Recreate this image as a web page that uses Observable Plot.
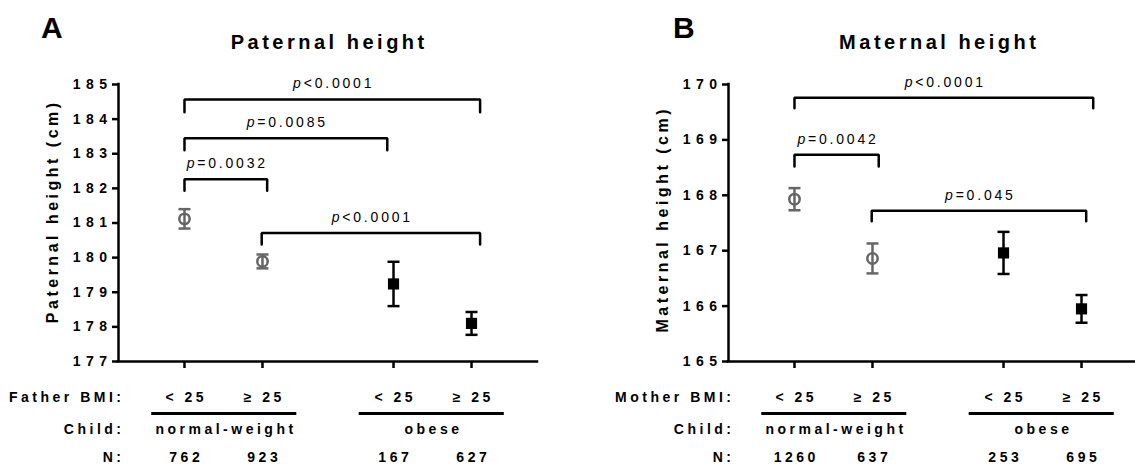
<!DOCTYPE html>
<html>
<head>
<meta charset="utf-8">
<script src="https://cdn.jsdelivr.net/npm/d3@7"></script>
<script src="https://cdn.jsdelivr.net/npm/@observablehq/plot@0.6"></script>
<style>
html, body { margin: 0; padding: 0; background: #fff; overflow: hidden; }
#fig { position: relative; width: 1135px; height: 465px; overflow: hidden; font-family: "Liberation Sans", Arial, sans-serif; color: #000; }
.panel { position: absolute; top: 0; width: 567px; height: 465px; }
.letter { position: absolute; top: 13px; font-size: 30px; font-weight: bold; line-height: 1; }
.title { position: absolute; top: 32px; left: 118px; width: 419px; padding-left: 3.5px; box-sizing: border-box; text-align: center; font-size: 20px; font-weight: bold; letter-spacing: 3.5px; line-height: 1; white-space: nowrap; }
.ylabel { position: absolute; left: 53px; font-size: 16px; font-weight: bold; letter-spacing: 3.5px; padding-left: 3.5px; line-height: 1; white-space: nowrap; transform: translate(-50%, -50%) rotate(-90deg); }
.panel svg { position: absolute; left: 0; overflow: visible; }
.panel svg text { font-weight: bold; letter-spacing: 3.5px; }
.panel svg .ytick text { letter-spacing: 5.5px; }
.panel svg .pval text { font-weight: normal; letter-spacing: 2.8px; }
</style>
</head>
<body>
<div id="fig"></div>
<script>
// ---------- data ----------
const colPos = [1, 2, 3.68, 4.68];
const bmiLabels = ["< 25", "\u2265 25", "< 25", "\u2265 25"];
const groupLabels = ["normal-weight", "obese"];
const groupFrom = [0.58, 3.24];
const groupTo = [2.44, 5.10];

const paternalTicks = [177, 178, 179, 180, 181, 182, 183, 184, 185];
const paternalMean = [181.12, 179.89, 179.24, 178.10];
const paternalErr = [0.28, 0.20, 0.64, 0.33];
const paternalN = [762, 923, 167, 627];
const paternalBrLabel = ["p<0.0001", "p=0.0085", "p=0.0032", "p<0.0001"];
const paternalBrFrom = [1, 1, 1, 1.99];
const paternalBrTo = [4.79, 3.60, 2.06, 4.79];
const paternalBrY = [184.57, 183.45, 182.26, 180.71];
const paternalBrEnd = [184.20, 183.10, 181.93, 180.38];

const maternalTicks = [165, 166, 167, 168, 169, 170];
const maternalMean = [167.93, 166.86, 166.96, 165.95];
const maternalErr = [0.20, 0.27, 0.38, 0.25];
const maternalN = [1260, 637, 253, 695];
const maternalBrLabel = ["p<0.0001", "p=0.0042", "p=0.045"];
const maternalBrFrom = [1, 1, 1.99];
const maternalBrTo = [4.83, 2.08, 4.74];
const maternalBrY = [169.76, 168.73, 167.72];
const maternalBrEnd = [169.57, 168.52, 167.53];

// ---------- layout ----------
const xDomain = [0.154, 5.526];
const rowIndex = {bmi: 0, line: 1, child: 2, n: 3.75};
const gray = "#666666";
const SW = 2.5;
const capSymbol = {
  draw(ctx, size) {
    const w = Math.sqrt(size / Math.PI);
    ctx.moveTo(-w, 0);
    ctx.lineTo(w, 0);
  }
};
const baseStyle = {fontFamily: "'Liberation Sans', Arial, sans-serif", fontSize: "14px", color: "#000", background: "transparent", overflow: "visible"};

function italicP(svg) {
  const ns = "http://www.w3.org/2000/svg";
  svg.querySelectorAll(".pval text").forEach(t => {
    const s = t.textContent;
    t.textContent = "";
    const a = document.createElementNS(ns, "tspan");
    a.setAttribute("font-style", "italic");
    a.textContent = s[0];
    t.appendChild(a);
    t.appendChild(document.createTextNode(s.slice(1)));
  });
}

function makePanel(cfg) {
  const panel = document.createElement("div");
  panel.className = "panel";
  panel.style.left = cfg.left + "px";
  document.getElementById("fig").appendChild(panel);

  const letter = document.createElement("div");
  letter.className = "letter";
  letter.style.left = cfg.letterLeft + "px";
  letter.textContent = cfg.letter;
  panel.appendChild(letter);

  const title = document.createElement("div");
  title.className = "title";
  title.textContent = cfg.title;
  panel.appendChild(title);

  const pts = colPos.map((x, i) => ({x, mean: cfg.mean[i], err: cfg.err[i], obese: i >= 2}));
  const normal = pts.filter(d => !d.obese);
  const obese = pts.filter(d => d.obese);
  const brIdx = cfg.brLabel.map((_, i) => i);
  const brPts = brIdx.flatMap(i => [
    {x: cfg.brFrom[i], y: cfg.brEnd[i], k: i},
    {x: cfg.brFrom[i], y: cfg.brY[i], k: i},
    {x: cfg.brTo[i], y: cfg.brY[i], k: i},
    {x: cfg.brTo[i], y: cfg.brEnd[i], k: i}
  ]);
  const ticks = cfg.ticks;

  function errMarks(data, color) {
    return [
      Plot.ruleX(data, {x: "x", y1: d => d.mean - d.err, y2: d => d.mean + d.err, stroke: color, strokeWidth: SW}),
      Plot.dot(data, {x: "x", y: d => d.mean - d.err, symbol: capSymbol, r: 6, fill: "none", stroke: color, strokeWidth: SW}),
      Plot.dot(data, {x: "x", y: d => d.mean + d.err, symbol: capSymbol, r: 6, fill: "none", stroke: color, strokeWidth: SW})
    ];
  }

  const chart = Plot.plot({
    width: 567, height: 371,
    marginLeft: 118, marginRight: 30, marginTop: 84, marginBottom: 10,
    style: baseStyle,
    x: {domain: xDomain},
    y: {domain: [ticks[0], ticks[ticks.length - 1]]},
    marks: [
      Plot.axisY({ticks, tickSize: 6, tickPadding: 0, strokeWidth: SW, tickFormat: d => String(d), label: null, className: "ytick"}),
      Plot.axisX({ticks: colPos, tickSize: 7, strokeWidth: SW, tickFormat: () => "", label: null}),
      Plot.ruleX([xDomain[0]], {strokeWidth: SW, strokeLinecap: "square"}),
      Plot.ruleY([ticks[0]], {strokeWidth: SW, strokeLinecap: "square"}),
      ...errMarks(normal, gray),
      ...errMarks(obese, "black"),
      Plot.dot(normal, {x: "x", y: "mean", symbol: "circle", r: 5.2, fill: "none", stroke: gray, strokeWidth: SW}),
      Plot.dot(obese, {x: "x", y: "mean", symbol: "square", r: 6.3, fill: "black"}),
      Plot.line(brPts, {x: "x", y: "y", z: "k", stroke: "black", strokeWidth: SW, strokeLinejoin: "miter"}),
      Plot.text(brIdx, {x: i => (cfg.brFrom[i] + cfg.brTo[i]) / 2, y: i => cfg.brY[i], text: i => cfg.brLabel[i], lineAnchor: "bottom", dy: -11, dx: 1.4, fontSize: 14, className: "pval"})
    ]
  });
  chart.style.top = "0px";
  italicP(chart);
  panel.appendChild(chart);

  const ylab = document.createElement("div");
  ylab.className = "ylabel";
  ylab.style.top = cfg.yLabelCenter + "px";
  ylab.textContent = cfg.yLabel;
  panel.appendChild(ylab);

  const rowLabels = [cfg.rowLabel, "Child:", "N:"];
  const rowKeys = ["bmi", "child", "n"];
  const table = Plot.plot({
    width: 567, height: 94,
    marginLeft: 118, marginRight: 30, marginTop: 0, marginBottom: 0,
    style: baseStyle,
    x: {domain: xDomain, axis: null},
    y: {domain: [0, 3.75], range: [26, 86], axis: null},
    marks: [
      Plot.text(rowLabels, {x: () => xDomain[0], y: (d, i) => rowIndex[rowKeys[i]], text: d => d, textAnchor: "end", dx: 6}),
      Plot.text(colPos, {x: d => d, y: () => rowIndex.bmi, text: (d, i) => bmiLabels[i], dx: 1.75}),
      Plot.ruleY(groupLabels, {x1: (d, i) => groupFrom[i], x2: (d, i) => groupTo[i], y: () => rowIndex.line, strokeWidth: 3}),
      Plot.text(groupLabels, {x: (d, i) => (groupFrom[i] + groupTo[i]) / 2, y: () => rowIndex.child, text: d => d, dx: 1.75}),
      Plot.text(cfg.nVals, {x: (d, i) => colPos[i], y: () => rowIndex.n, text: d => String(d), dx: 1.75})
    ]
  });
  table.style.top = "371px";
  panel.appendChild(table);
}

makePanel({
  left: 0, letter: "A", letterLeft: 41, title: "Paternal height", yLabel: "Paternal height (cm)", yLabelCenter: 213,
  rowLabel: "Father BMI:", ticks: paternalTicks, mean: paternalMean, err: paternalErr, nVals: paternalN,
  brLabel: paternalBrLabel, brFrom: paternalBrFrom, brTo: paternalBrTo, brY: paternalBrY, brEnd: paternalBrEnd
});
makePanel({
  left: 610, letter: "B", letterLeft: 63, title: "Maternal height", yLabel: "Maternal height (cm)", yLabelCenter: 221,
  rowLabel: "Mother BMI:", ticks: maternalTicks, mean: maternalMean, err: maternalErr, nVals: maternalN,
  brLabel: maternalBrLabel, brFrom: maternalBrFrom, brTo: maternalBrTo, brY: maternalBrY, brEnd: maternalBrEnd
});
</script>
</body>
</html>
